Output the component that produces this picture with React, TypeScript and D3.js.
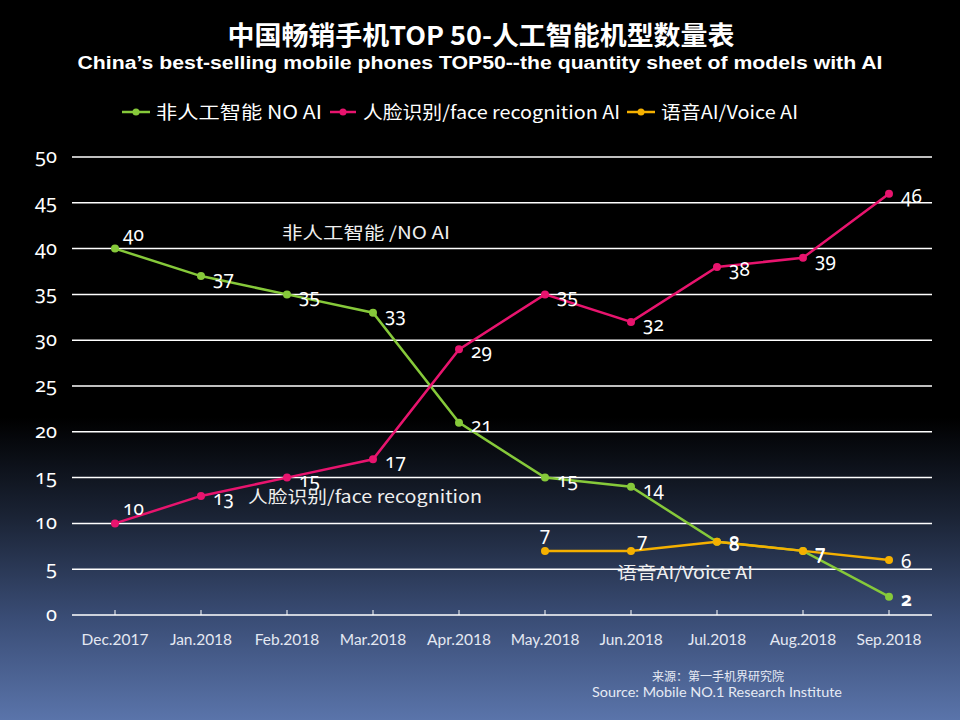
import React from 'react';
import * as d3 from 'd3';

const categories = ['Dec.2017', 'Jan.2018', 'Feb.2018', 'Mar.2018', 'Apr.2018', 'May.2018', 'Jun.2018', 'Jul.2018', 'Aug.2018', 'Sep.2018'];
const noAI: (number | null)[] = [40, 37, 35, 33, 21, 15, 14, 8, 7, 2];
const faceAI: (number | null)[] = [10, 13, 15, 17, 29, 35, 32, 38, 39, 46];
const voiceAI: (number | null)[] = [null, null, null, null, null, 7, 7, 8, 7, 6];
const yTicks = [0, 5, 10, 15, 20, 25, 30, 35, 40, 45, 50];

const W = 960;
const H = 720;
const M = { left: 72, right: 932, top: 157, bottom: 615 };

const NUM_FONT = '"Noto Sans", "Open Sans", sans-serif';
const LAT_FONT = 'Lato, "Open Sans", sans-serif';
const CJK_FONT = '"Noto Sans CJK SC", "Noto Sans", sans-serif';
const ONUM = { fontVariantNumeric: 'oldstyle-nums', fontFeatureSettings: '"onum" 1' } as any;

export default function App() {
  const x = d3.scaleBand<string>().domain(categories).range([M.left, M.right]);
  const cx = (c: string) => (x(c) as number) + x.bandwidth() / 2;
  const y = d3.scaleLinear().domain([0, 50]).range([M.bottom, M.top]);

  const line = d3
    .line<number | null>()
    .defined((d) => d != null)
    .x((_, i) => cx(categories[i]))
    .y((d) => y(d as number));

  const series = [
    { key: 'noai', values: noAI, color: '#86c93a' },
    { key: 'face', values: faceAI, color: '#e8146e' },
    { key: 'voice', values: voiceAI, color: '#f5b000' },
  ];

  const labelPos = (key: string, i: number, firstIdx: number) => {
    if (key === 'voice') {
      if (i === firstIdx) return { dx: 0, dy: -10, anchor: 'middle' };
      if (i === firstIdx + 1) return { dx: 6, dy: -4, anchor: 'start' };
      return { dx: 12, dy: 8, anchor: 'start' };
    }
    if (i === firstIdx) return { dx: 8, dy: -8, anchor: 'start' };
    return { dx: 12, dy: 9, anchor: 'start' };
  };

  const legend = [
    { x: 122, w: 28, tx: 156, tl: 166, color: '#86c93a', text: '非人工智能  NO AI' },
    { x: 330, w: 26, tx: 363, tl: 257, color: '#e8146e', text: '人脸识别/face recognition AI' },
    { x: 627, w: 28, tx: 661, tl: 137, color: '#f5b000', text: '语音AI/Voice AI' },
  ];

  return (
    <svg width={W} height={H} style={{ position: 'absolute', left: 0, top: 0 }}>
      <defs>
        <linearGradient id="bg" x1="0" y1="0" x2="0" y2="1">
          <stop offset="0" stopColor="#000000" />
          <stop offset="0.58" stopColor="#000000" />
          <stop offset="0.72" stopColor="#1b2436" />
          <stop offset="0.86" stopColor="#3a4d76" />
          <stop offset="1" stopColor="#5a74aa" />
        </linearGradient>
      </defs>
      <rect x={0} y={0} width={W} height={H} fill="url(#bg)" />

      {/* Title */}
      <text x={481} y={45} textAnchor="middle" fill="#fff" fontFamily={CJK_FONT} fontWeight={700} fontSize={26} textLength={507} lengthAdjust="spacingAndGlyphs">
        中国畅销手机TOP 50-人工智能机型数量表
      </text>
      <text x={480} y={69} textAnchor="middle" fill="#fff" fontFamily='"Liberation Sans", Arial, sans-serif' fontWeight={700} fontSize={18} textLength={805} lengthAdjust="spacingAndGlyphs">
        China’s best-selling mobile phones TOP50--the quantity sheet of models with AI
      </text>

      {/* Legend */}
      {legend.map((l) => (
        <g key={l.text}>
          <line x1={l.x} x2={l.x + l.w} y1={112} y2={112} stroke={l.color} strokeWidth={2.5} />
          <circle cx={l.x + l.w / 2} cy={112} r={3.5} fill={l.color} />
          <text x={l.tx} y={119} fill="#fff" fontFamily={CJK_FONT} fontSize={18} textLength={l.tl} lengthAdjust="spacingAndGlyphs">
            {l.text}
          </text>
        </g>
      ))}

      {/* Grid */}
      {yTicks.map((t) => (
        <g key={t}>
          <line x1={M.left} x2={M.right} y1={y(t)} y2={y(t)} stroke="#fff" strokeWidth={1.5} />
          <text x={57} y={y(t) + 6} textAnchor="end" fill="#fff" fontFamily={NUM_FONT} fontSize={20} style={ONUM}>
            {t}
          </text>
        </g>
      ))}
      {categories.map((c) => (
        <g key={c}>
          <line x1={cx(c)} x2={cx(c)} y1={M.bottom} y2={M.bottom - 5} stroke="#fff" strokeWidth={1} />
          <text x={cx(c)} y={645} textAnchor="middle" fill="#e4e8f2" fontFamily={LAT_FONT} fontSize={15.5}>
            {c}
          </text>
        </g>
      ))}

      {/* Series */}
      {series.map((s) => (
        <path key={s.key} d={line(s.values) || ''} fill="none" stroke={s.color} strokeWidth={2.5} />
      ))}
      {series.map((s) =>
        s.values.map((v, i) =>
          v == null ? null : <circle key={s.key + i} cx={cx(categories[i])} cy={y(v)} r={4} fill={s.color} />
        )
      )}
      {series.map((s) => {
        const firstIdx = s.values.findIndex((v) => v != null);
        return s.values.map((v, i) => {
          if (v == null) return null;
          const p = labelPos(s.key, i, firstIdx);
          return (
            <text
              key={'l' + s.key + i}
              x={cx(categories[i]) + p.dx}
              y={y(v) + p.dy}
              textAnchor={p.anchor as any}
              fill="#fff"
              fontFamily={NUM_FONT}
              fontSize={19}
              fontWeight={s.key === 'noai' && i === s.values.length - 1 ? 700 : 400}
              style={ONUM}
            >
              {v}
            </text>
          );
        });
      })}

      {/* Annotations */}
      <text x={282} y={239} fill="#eee" fontFamily={CJK_FONT} fontSize={17} textLength={168} lengthAdjust="spacingAndGlyphs">非人工智能 /NO AI</text>
      <text x={248} y={503} fill="#eee" fontFamily={CJK_FONT} fontSize={17} textLength={234} lengthAdjust="spacingAndGlyphs">人脸识别/face recognition</text>
      <text x={617} y={579} fill="#eee" fontFamily={CJK_FONT} fontSize={17} textLength={136} lengthAdjust="spacingAndGlyphs">语音AI/Voice AI</text>

      {/* Source */}
      <text x={718} y={681} textAnchor="middle" fill="#e6eaf4" fontFamily={CJK_FONT} fontSize={12}>来源：第一手机界研究院</text>
      <text x={717} y={697} textAnchor="middle" fill="#e6eaf4" fontFamily={LAT_FONT} fontSize={13} textLength={250} lengthAdjust="spacingAndGlyphs">Source: Mobile NO.1 Research Institute</text>
    </svg>
  );
}
